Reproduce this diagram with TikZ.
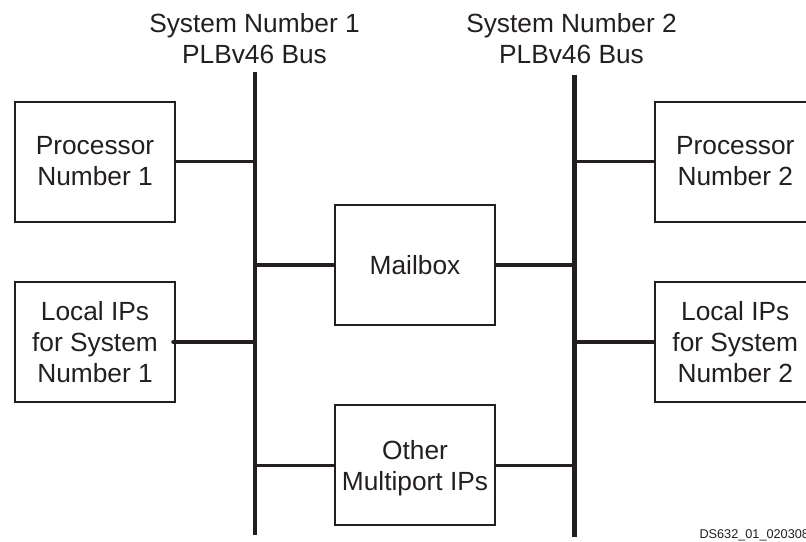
\documentclass[tikz,border=0pt]{standalone}
\usepackage{fontspec}
\setmainfont{Liberation Sans}
\definecolor{ink}{RGB}{35,31,32}
\begin{document}
\begin{tikzpicture}[x=1pt,y=-1pt,
  blk/.style={draw=ink, text=ink, line width=2pt, minimum width=160pt, minimum height=120pt, inner sep=0pt, align=center, font=\fontsize{26.3}{31}\selectfont},
  lbl/.style={text=ink, align=center, inner sep=0pt, font=\fontsize{26.3}{31}\selectfont},
  bus/.style={draw=ink, line width=4.5pt},
  link/.style={draw=ink, line width=3.5pt}]
\useasboundingbox (0,0) rectangle (806,541);
\clip (0,0) rectangle (806,541);
% buses
\coordinate (b1t) at (255,71.7);
\coordinate (b1b) at (255,535);
\coordinate (b2t) at (574.7,75);
\coordinate (b2b) at (574.7,536.7);
\draw[bus] (b1t) -- (b1b);
\draw[bus] (b2t) -- (b2b);
% bus labels
\node[lbl] (sys1) at (254.5,38.5) {System Number 1\\PLBv46 Bus};
\node[lbl] (sys2) at (571.5,38.5) {System Number 2\\PLBv46 Bus};
% blocks
\node[blk] (proc1) at (95,161.5) {Processor\\Number 1};
\node[blk] (loc1) at (95,342) {Local IPs\\for System\\Number 1};
\node[blk] (mail) at (415,265) {Mailbox};
\node[blk, text depth=0pt] (other) at (415,465.3) {Other\\Multiport IPs};
\node[blk] (proc2) at (735.3,161.5) {Processor\\Number 2};
\node[blk] (loc2) at (735.3,342) {Local IPs\\for System\\Number 2};
% links
\draw[link] (proc1.east) -- (proc1.east -| b1t);
\draw[link, line cap=round] ([xshift=-3pt]loc1.east) -- (loc1.east -| b1t);
\draw[link] (mail.west) -- (mail.west -| b1t);
\draw[link] (mail.east) -- (mail.east -| b2t);
\draw[link] (other.west) -- (other.west -| b1t);
\draw[link] (other.east) -- ([xshift=2pt]other.east -| b2t);
\draw[link] (proc2.west) -- (proc2.west -| b2t);
\draw[link] (loc2.west) -- (loc2.west -| b2t);
% figure id
\node[anchor=base west, inner sep=0pt, text=ink, font=\fontsize{12.7}{15}\selectfont] (ds) at (699.3,538) {DS632\_01\_020308};
\end{tikzpicture}
\end{document}
